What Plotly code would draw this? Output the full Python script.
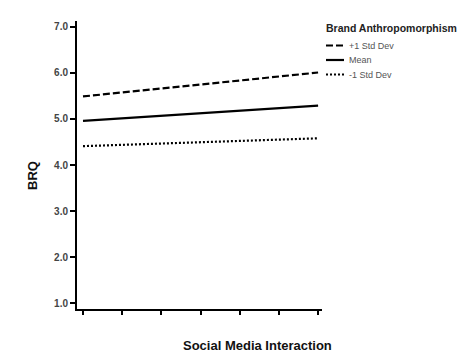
import plotly.graph_objects as go

x_vals = [1, 7]
series_names = ["+1 Std Dev", "Mean", "-1 Std Dev"]
plus_sd = [5.49, 6.01]
mean_vals = [4.96, 5.29]
minus_sd = [4.41, 4.58]
y_tick_vals = [1, 2, 3, 4, 5, 6, 7]
y_tick_text = ["1.0", "2.0", "3.0", "4.0", "5.0", "6.0", "7.0"]
x_tick_vals = [1, 2, 3, 4, 5, 6, 7]
legend_title = "Brand Anthropomorphism"
x_title = "Social Media Interaction"
y_title = "BRQ"

dashes = ["7px,3px", "solid", "2px,2px"]
fig = go.Figure()
for name, ys, d in zip(series_names, [plus_sd, mean_vals, minus_sd], dashes):
    fig.add_trace(go.Scatter(x=x_vals, y=ys, mode="lines", name=name, showlegend=False,
                             line=dict(color="black", width=2.2, dash=d)))

# custom compact legend (paper coordinates)
leg_rows = [0.9149, 0.8646, 0.8142]
annotations = [
    dict(text="<b>%s</b>" % legend_title, x=1.010, y=0.9774, xref="paper", yref="paper",
         xanchor="left", yanchor="middle", showarrow=False, font=dict(size=10.5, color="#222")),
    dict(text="<b>%s</b>" % x_title, x=0.7367, y=-0.125, xref="paper", yref="paper",
         xanchor="center", yanchor="middle", showarrow=False, font=dict(size=13, color="#111")),
    dict(text="<b>%s</b>" % y_title, x=-0.1796, y=0.4653, xref="paper", yref="paper", textangle=-90,
         xanchor="center", yanchor="middle", showarrow=False, font=dict(size=13, color="#111")),
]
shapes = []
for name, yy, d in zip(series_names, leg_rows, dashes):
    shapes.append(dict(type="line", xref="paper", yref="paper", x0=1.0163, x1=1.0898, y0=yy, y1=yy,
                       line=dict(color="black", width=2.2, dash=d)))
    annotations.append(dict(text=name, x=1.104, y=yy, xref="paper", yref="paper",
                            xanchor="left", yanchor="middle", showarrow=False,
                            font=dict(size=9, color="#555")))

fig.update_layout(
    width=460, height=350,
    margin=dict(l=69, r=146, t=13, b=49),
    plot_bgcolor="white", paper_bgcolor="white",
    font=dict(family="Liberation Sans, Arial, sans-serif", color="#222"),
    showlegend=False,
    annotations=annotations,
    shapes=shapes,
    xaxis=dict(
        range=[0.847, 7.10], tickvals=x_tick_vals, showticklabels=False,
        ticks="outside", ticklen=4, tickwidth=1.5, tickcolor="black",
        showline=True, linecolor="black", linewidth=2, showgrid=False, zeroline=False,
    ),
    yaxis=dict(
        range=[0.87, 7.13], tickvals=y_tick_vals, ticktext=y_tick_text,
        ticks="outside", ticklen=5, tickwidth=2, tickcolor="black",
        tickfont=dict(size=10, color="#444", weight="bold"),
        showline=True, linecolor="black", linewidth=2, showgrid=False, zeroline=False,
    ),
)

fig.write_html("out.html")
